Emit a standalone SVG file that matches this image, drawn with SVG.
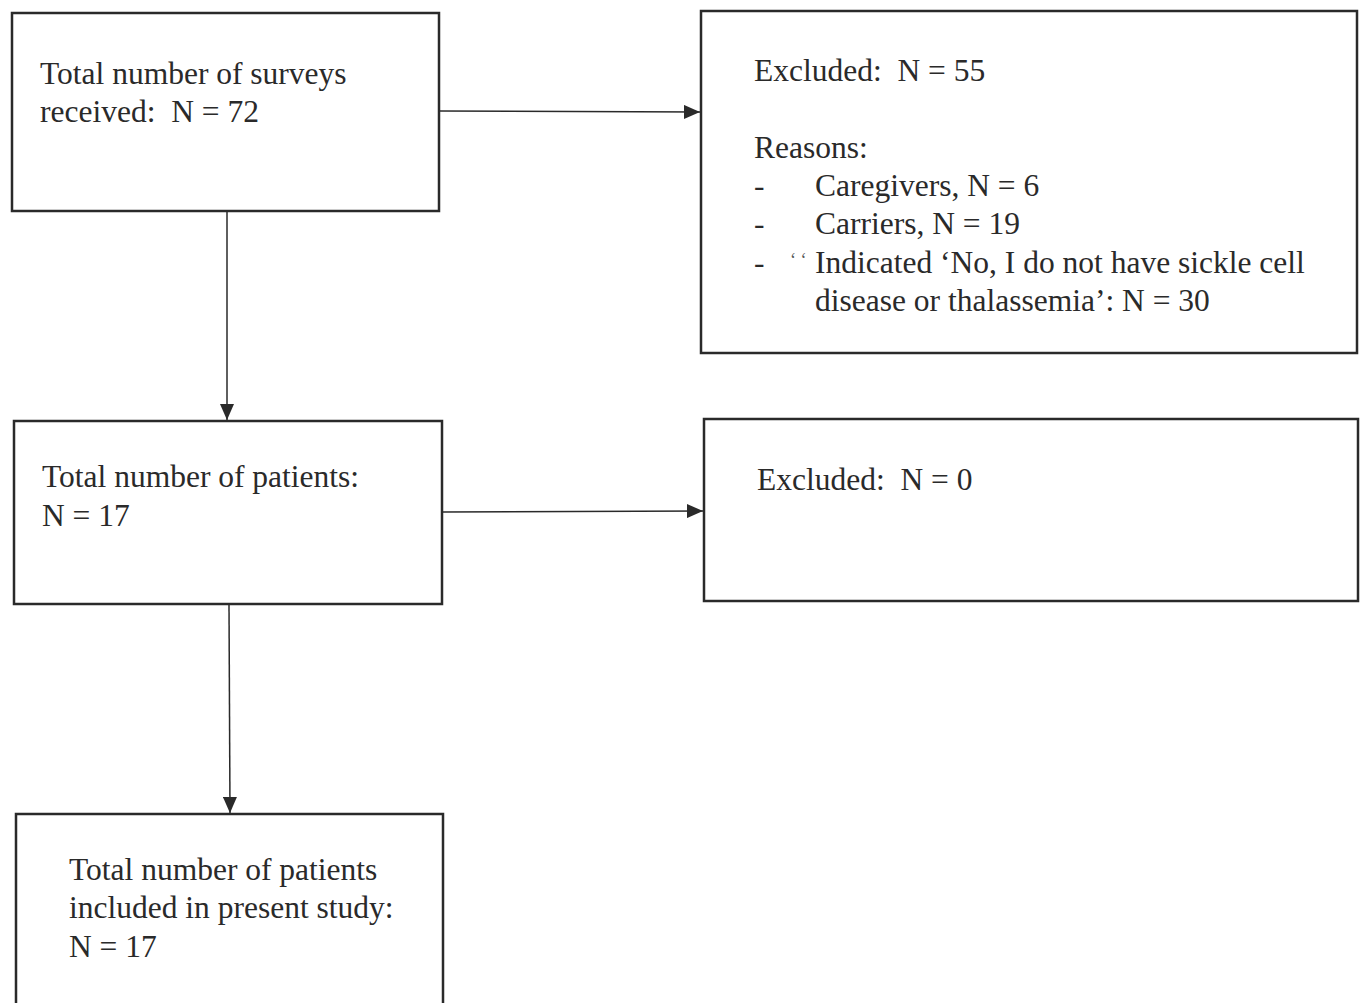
<svg xmlns="http://www.w3.org/2000/svg" width="1363" height="1003" viewBox="0 0 1363 1003">
<defs>
<style>
.box{fill:#ffffff;stroke:#2a2a2a;stroke-width:2.5}
.t{font-family:"Liberation Serif","Times New Roman",serif;font-size:31.5px;fill:#2a2a2a;white-space:pre}
.c{stroke:#2a2a2a;stroke-width:1.5;fill:none}
.tick{font-family:"Liberation Serif",serif;font-size:18px;fill:#555}
</style>
<marker id="ah" markerWidth="16" markerHeight="14" refX="16" refY="7" orient="auto" markerUnits="userSpaceOnUse">
<path d="M0,0 L16,7 L0,14 Z" fill="#2a2a2a"/>
</marker>
</defs>
<rect width="1363" height="1003" fill="#ffffff"/>
<g id="connectors">
<line class="c" x1="440" y1="111" x2="700" y2="112" marker-end="url(#ah)"/>
<line class="c" x1="227" y1="212" x2="227" y2="420" marker-end="url(#ah)"/>
<line class="c" x1="443" y1="512" x2="703" y2="511" marker-end="url(#ah)"/>
<line class="c" x1="229" y1="605" x2="230" y2="813" marker-end="url(#ah)"/>
</g>
<g id="node-surveys">
<rect class="box" x="12" y="13" width="427" height="198"/>
<text class="t" x="40" y="84">Total number of surveys</text>
<text class="t" x="40" y="122" xml:space="preserve">received:  N = 72</text>
</g>
<g id="node-excluded1">
<rect class="box" x="701" y="11" width="656" height="342"/>
<text class="t" x="754" y="81" xml:space="preserve">Excluded:  N = 55</text>
<text class="t" x="754" y="158">Reasons:</text>
<text class="t" x="754" y="196">-</text>
<text class="t" x="815" y="196">Caregivers, N = 6</text>
<text class="t" x="754" y="234">-</text>
<text class="t" x="815" y="234">Carriers, N = 19</text>
<text class="t" x="754" y="273">-</text>
<text class="tick" x="790" y="266">‘ ‘</text>
<text class="t" x="815" y="273">Indicated ‘No, I do not have sickle cell</text>
<text class="t" x="815" y="311">disease or thalassemia’: N = 30</text>
</g>
<g id="node-patients">
<rect class="box" x="14" y="421" width="428" height="183"/>
<text class="t" x="42" y="487">Total number of patients:</text>
<text class="t" x="42" y="526">N = 17</text>
</g>
<g id="node-excluded2">
<rect class="box" x="704" y="419" width="654" height="182"/>
<text class="t" x="757" y="490" xml:space="preserve">Excluded:  N = 0</text>
</g>
<g id="node-included">
<rect class="box" x="16" y="814" width="427" height="200"/>
<text class="t" x="69" y="880">Total number of patients</text>
<text class="t" x="69" y="918">included in present study:</text>
<text class="t" x="69" y="957">N = 17</text>
</g>
</svg>
